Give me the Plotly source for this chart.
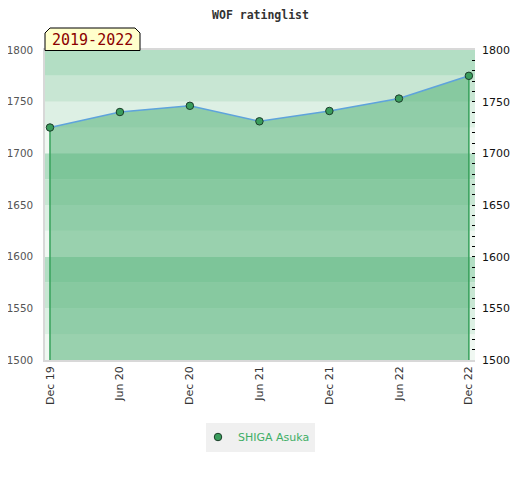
import plotly.graph_objects as go

# ---- data ----
dates = ["2019-12-01", "2020-06-01", "2020-12-01", "2021-06-01",
         "2021-12-01", "2022-06-01", "2022-12-01"]
tick_labels = ["Dec 19", "Jun 20", "Dec 20", "Jun 21", "Dec 21", "Jun 22", "Dec 22"]
ratings = [1725, 1740, 1746, 1731, 1741, 1753, 1775]
player = "SHIGA Asuka"
period_label = "2019-2022"
y_min, y_max = 1500, 1800
band_step = 25
band_colors = ["#f0f8f2", "#ddf0e4", "#c8e6d3", "#b3dec4"]

FONT = "DejaVu Sans"
MONO = "DejaVu Sans Mono"

fig = go.Figure()

# filled area under the rating line
fig.add_trace(go.Scatter(
    x=dates, y=ratings, mode="lines",
    line=dict(color="#5ea3dc", width=1.6),
    fill="tozeroy", fillcolor="rgba(79,176,116,0.54)",
    showlegend=False, hoverinfo="skip"))

# vertical edges of the filled area
for i in (0, -1):
    fig.add_trace(go.Scatter(
        x=[dates[i], dates[i]], y=[y_min, ratings[i]], mode="lines",
        line=dict(color="#35a05a", width=1.5),
        showlegend=False, hoverinfo="skip"))

# points (legend entry)
fig.add_trace(go.Scatter(
    x=dates, y=ratings, mode="markers", name=player,
    marker=dict(size=7.5, color="#3a9d5c", line=dict(color="#1b3d2a", width=1))))

# invisible trace on the right axis
fig.add_trace(go.Scatter(
    x=[dates[0]], y=[ratings[0]], yaxis="y2", mode="markers",
    marker=dict(opacity=0), showlegend=False, hoverinfo="skip"))

# background bands
shapes = []
n_bands = (y_max - y_min) // band_step
for k in range(n_bands):
    lo = y_min + k * band_step
    shapes.append(dict(type="rect", xref="paper", yref="y", x0=0, x1=1,
                       y0=lo, y1=lo + band_step, layer="below",
                       fillcolor=band_colors[k % 4], line=dict(width=0)))

# page body has an 8px margin: work in window coordinates, convert to figure
OFF = 8
W, H = 520 - 2 * OFF, 480 - 2 * OFF
L, T, R, B = 45, 50, 475, 360          # plot area in window px
def px(xp):
    return (xp - L) / (R - L)
def py(yp):
    return (B - yp) / (B - T)

bx0, bx1, by0, by1, c = 45, 140, 50.5, 28, 5
path = (f"M {px(bx0)},{py(by0)} L {px(bx0)},{py(by1 + c)} L {px(bx0 + c)},{py(by1)} "
        f"L {px(bx1 - c)},{py(by1)} L {px(bx1)},{py(by1 + c)} L {px(bx1)},{py(by0)} Z")
shapes.append(dict(type="path", xref="paper", yref="paper", path=path,
                   fillcolor="#ffffcc", line=dict(color="#000000", width=1),
                   layer="above"))

fig.update_layout(
    width=W, height=H,
    margin=dict(l=L - OFF, r=W - (R - OFF), t=T - OFF, b=H - (B - OFF),
                pad=0, autoexpand=False),
    paper_bgcolor="white", plot_bgcolor="white",
    font=dict(family=FONT, size=11, color="#444"),
    title=dict(text="<b>WOF ratinglist</b>", x=(260.5 - OFF) / W, xanchor="center",
               y=1, yanchor="top", pad=dict(t=3, b=0),
               font=dict(family=MONO, size=11.5, color="#333")),
    shapes=shapes,
    annotations=[dict(text=period_label, xref="paper", yref="paper",
                      x=px((bx0 + bx1) / 2), y=py(40), showarrow=False,
                      xanchor="center", yanchor="middle",
                      font=dict(family=MONO, size=15, color="#8b0000"))],
    xaxis=dict(type="date", range=["2019-11-18", "2022-12-17"], automargin=False,
               tickvals=dates, ticktext=tick_labels, tickangle=-90,
               showgrid=False, zeroline=False, ticks="",
               showline=True, linecolor="#d8d8d8", linewidth=1.5, mirror=True,
               tickfont=dict(family=FONT, size=11, color="#333")),
    yaxis=dict(range=[y_min, y_max], dtick=50, showgrid=False, zeroline=False,
               ticks="", ticklabelstandoff=8, automargin=False,
               showline=True, linecolor="#d8d8d8", linewidth=1.5,
               tickfont=dict(family=FONT, size=10.4, color="#555")),
    yaxis2=dict(range=[y_min, y_max], overlaying="y", side="right",
                dtick=50, showgrid=False, zeroline=False, automargin=False,
                ticks="inside", ticklen=3, tickcolor="#000", tickwidth=1,
                minor=dict(dtick=10, ticks="inside", ticklen=3,
                           tickcolor="#000", tickwidth=1),
                ticklabelstandoff=6,
                tickfont=dict(family=FONT, size=11, color="#111")),
    legend=dict(orientation="h", x=px(260.5), xanchor="center",
                y=py(437), yanchor="middle", bgcolor="#f0f0f0",
                font=dict(family=FONT, size=11, color="#3fae66"),
                itemwidth=30, indentation=-8),
    hovermode=False,
)

fig.write_html("out.html")
